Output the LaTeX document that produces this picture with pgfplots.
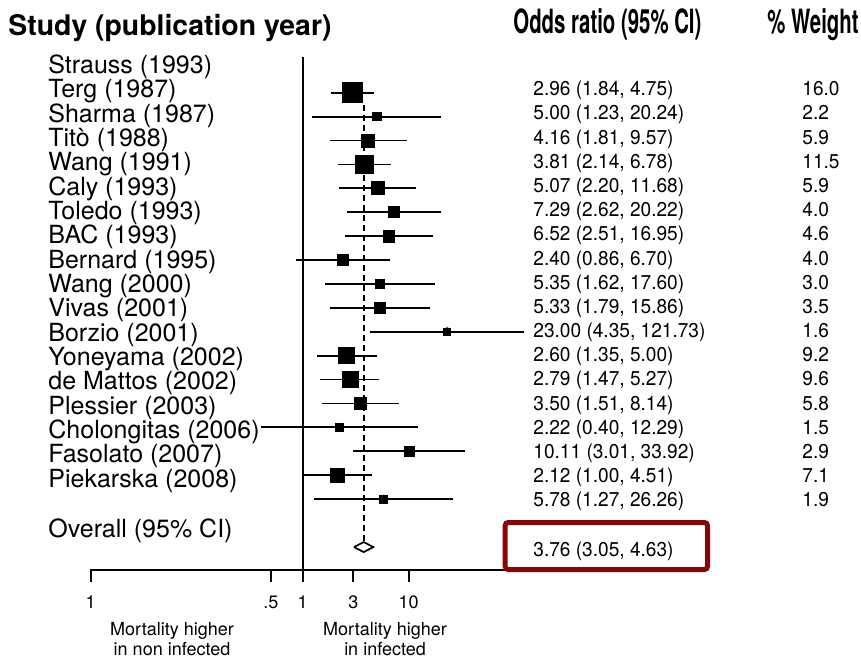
\documentclass[border=0pt]{standalone}
\usepackage{pgfplots}
\pgfplotsset{compat=1.18}
\usepackage{pgfplotstable}
\usepackage{graphicx}
\usepackage{fontspec}
\setmainfont{TeX Gyre Heros}
\definecolor{boxred}{RGB}{132,8,8}
\newcommand\lbl{\fontsize{12.5}{14}\selectfont}
\newcommand\hdr{\fontsize{14.2}{16}\selectfont\bfseries}
\newcommand\hdrb{\fontsize{16.7}{18}\selectfont\bfseries}
\newcommand\dat{\fontsize{10}{12}\selectfont}
\newcommand\sm{\fontsize{9}{10}\selectfont}
\newcommand\pp[2]{({(#1)*0.5pt},{-(#2)*0.5pt})}

\pgfplotstableread{
row or lo hi w
1 2.96 1.84 4.75 16.0
2 5.00 1.23 20.24 2.2
3 4.16 1.81 9.57 5.9
4 3.81 2.14 6.78 11.5
5 5.07 2.20 11.68 5.9
6 7.29 2.62 20.22 4.0
7 6.52 2.51 16.95 4.6
8 2.40 0.86 6.70 4.0
9 5.35 1.62 17.60 3.0
10 5.33 1.79 15.86 3.5
11 23.00 4.35 121.73 1.6
12 2.60 1.35 5.00 9.2
13 2.79 1.47 5.27 9.6
14 3.50 1.51 8.14 5.8
15 2.22 0.40 12.29 1.5
16 10.11 3.01 33.92 2.9
17 2.12 1.00 4.51 7.1
18 5.78 1.27 26.26 1.9
}\data

\begin{document}
\begin{tikzpicture}[every node/.style={inner sep=0pt}]
\begin{axis}[name=ax, at={(0,0)}, anchor=north west,
  width=430.5pt, height=330pt, scale only axis,
  xmode=log, xmin=0.0013932, xmax=184927,
  ymin=-2.879, ymax=24.736, y dir=reverse,
  hide axis, clip=false]
% null line
\addplot[black, line width=1pt] coordinates {(1,-0.494) (1,20.97)};
% overall estimate line
\addplot[black, line width=0.9pt, dash pattern=on 3pt off 2pt] coordinates {(3.76,1.5) (3.76,19.8)};
% confidence intervals
\addplot[black, only marks, mark=none,
  error bars/.cd, x dir=both, x explicit, error mark=none,
  error bar style={line width=0.9pt, black}]
  table[x=or, y=row,
    x error plus expr=\thisrow{hi}-\thisrow{or},
    x error minus expr=\thisrow{or}-\thisrow{lo}] {\data};
% weighted squares
\addplot[scatter, only marks, mark=square*, black,
  point meta=\thisrow{w},
  visualization depends on={\thisrow{w} \as \wt},
  scatter/@pre marker code/.code={\pgfmathsetmacro\ms{0.4+1.17*sqrt(\wt)}\scope[mark size=\ms pt]},
  scatter/@post marker code/.code={\endscope}]
  table[x=or, y=row] {\data};
% overall diamond
\addplot[black, line width=0.85pt, fill=white] coordinates {(3.05,20.01) (3.76,19.8) (4.63,20.01) (3.76,20.22) (3.05,20.01)};
% ticks
\draw[line width=1pt] (axis cs:0.01,20.97) -- ++(0pt,-6pt);
\draw[line width=1pt] (axis cs:0.5,20.97) -- ++(0pt,-6pt);
\draw[line width=1pt] (axis cs:1,20.97) -- ++(0pt,-6pt);
\draw[line width=1pt] (axis cs:3,20.97) -- ++(0pt,-6pt);
\draw[line width=1pt] (axis cs:10,20.97) -- ++(0pt,-6pt);
\node[anchor=base, font=\sm, yshift=-19.15pt] at (axis cs:0.01,20.97) {1};
\node[anchor=base, font=\sm, yshift=-19.15pt] at (axis cs:0.5,20.97) {.5};
\node[anchor=base, font=\sm, yshift=-19.15pt] at (axis cs:1,20.97) {1};
\node[anchor=base, font=\sm, yshift=-19.15pt] at (axis cs:3,20.97) {3};
\node[anchor=base, font=\sm, yshift=-19.15pt] at (axis cs:10,20.97) {10};
\end{axis}
% bounding box
\path \pp{0}{0} rectangle \pp{861}{660};
% x axis line
\draw[line width=1pt] \pp{90.2}{570} -- \pp{505}{570};
% red box
\draw[boxred, line width=2.5pt, rounded corners=1.5pt] \pp{505.2}{522.5} rectangle \pp{707.5}{569.5};
% headers
\node[anchor=base west, font=\hdr] at \pp{8}{35} {Study (publication year)};
\node[anchor=base west, font=\hdrb] at \pp{513}{33.5} {\scalebox{0.61}[1]{Odds ratio (95\% CI)}};
\node[anchor=base west, font=\hdrb] at \pp{767}{33.5} {\scalebox{0.61}[1]{\% Weight}};
% study labels
\foreach \s [count=\i from 0] in {Strauss (1993), Terg (1987), Sharma (1987), Titò (1988), Wang (1991), Caly (1993), Toledo (1993), BAC (1993), Bernard (1995), Wang (2000), Vivas (2001), Borzio (2001), Yoneyama (2002), de Mattos (2002), Plessier (2003), Cholongitas (2006), Fasolato (2007), Piekarska (2008)}
  {\node[anchor=base west, font=\lbl] at \pp{48}{73.3+24.35*\i} {\s};}
% odds ratio texts
\foreach \s [count=\i from 0] in {{2.96 (1.84, 4.75)}, {5.00 (1.23, 20.24)}, {4.16 (1.81, 9.57)}, {3.81 (2.14, 6.78)}, {5.07 (2.20, 11.68)}, {7.29 (2.62, 20.22)}, {6.52 (2.51, 16.95)}, {2.40 (0.86, 6.70)}, {5.35 (1.62, 17.60)}, {5.33 (1.79, 15.86)}, {23.00 (4.35, 121.73)}, {2.60 (1.35, 5.00)}, {2.79 (1.47, 5.27)}, {3.50 (1.51, 8.14)}, {2.22 (0.40, 12.29)}, {10.11 (3.01, 33.92)}, {2.12 (1.00, 4.51)}, {5.78 (1.27, 26.26)}}
  {\node[anchor=base west, font=\dat] at \pp{533}{95.8+24.18*\i} {\scalebox{0.955}[1]{\s}};}
% weights
\foreach \s [count=\i from 0] in {16.0, 2.2, 5.9, 11.5, 5.9, 4.0, 4.6, 4.0, 3.0, 3.5, 1.6, 9.2, 9.6, 5.8, 1.5, 2.9, 7.1, 1.9}
  {\node[anchor=base west, font=\dat] at \pp{802}{95.8+24.18*\i} {\scalebox{0.955}[1]{\s}};}
% overall
\node[anchor=base west, font=\lbl] at \pp{48}{537.3} {Overall (95\% CI)};
\node[anchor=base west, font=\dat] at \pp{533}{556.7} {\scalebox{0.955}[1]{3.76 (3.05, 4.63)}};
% bottom captions
\node[anchor=base, font=\sm] at \pp{172}{635} {Mortality higher};
\node[anchor=base, font=\sm] at \pp{172}{655} {in non infected};
\node[anchor=base, font=\sm] at \pp{385}{635} {Mortality higher};
\node[anchor=base, font=\sm] at \pp{385}{655} {in infected};
\end{tikzpicture}
\end{document}
